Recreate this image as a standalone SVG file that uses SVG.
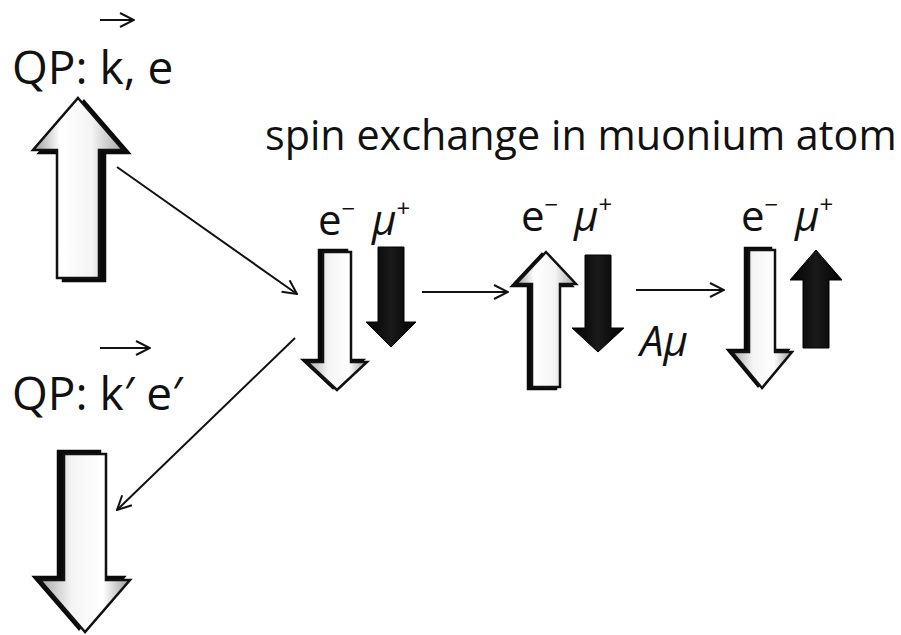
<svg xmlns="http://www.w3.org/2000/svg" width="901" height="635" viewBox="0 0 901 635">
<style>
text{font-family:"Open Sans","Noto Sans",sans-serif;fill:#111}
.big{font-size:46px}
.title{font-size:41.3px}
.lab{font-size:42px}
.sup{font-size:24px;font-style:normal}
.it{font-style:italic}
.conn{stroke:#111;stroke-width:2;fill:none}
.wa{fill:url(#wg);stroke:#111;stroke-width:2.5;stroke-linejoin:miter}
.sh{fill:#0a0a0a;stroke:#0a0a0a;stroke-width:2.5}
.ba{fill:url(#bg);stroke:#000;stroke-width:1}
</style>
<defs>
<linearGradient id="wg" x1="0" y1="0" x2="1" y2="0">
<stop offset="0" stop-color="#9a9a9a"/>
<stop offset="0.3" stop-color="#ffffff"/>
<stop offset="0.65" stop-color="#f4f4f4"/>
<stop offset="1" stop-color="#a8a8a8"/>
</linearGradient>
<linearGradient id="bg" x1="0" y1="0" x2="1" y2="0">
<stop offset="0" stop-color="#000"/>
<stop offset="0.5" stop-color="#1a1a1a"/>
<stop offset="1" stop-color="#000"/>
</linearGradient>
<marker id="ah" viewBox="0 0 16 16" refX="15" refY="8" markerWidth="16" markerHeight="16" markerUnits="userSpaceOnUse" orient="auto">
<path d="M1,1 L15,8 L1,15" fill="none" stroke="#111" stroke-width="2"/>
</marker>
</defs>

<g id="qp-in">
<text class="big" x="12" y="84">QP: k, e</text>
<line class="conn" x1="100" y1="20" x2="134" y2="20" marker-end="url(#ah)"/>
<g transform="translate(78,98)">
<path class="sh" transform="translate(6,3)" d="M0,0 L45,52 L21,52 L21,180 L-21,180 L-21,52 L-45,52 Z"/>
<path class="wa" d="M0,0 L45,52 L21,52 L21,180 L-21,180 L-21,52 L-45,52 Z"/>
</g>
</g>

<g id="qp-out">
<text class="big" x="12" y="410">QP: k′ e′</text>
<line class="conn" x1="100" y1="348" x2="150" y2="348" marker-end="url(#ah)"/>
<g transform="translate(85,632) rotate(180)">
<path class="sh" transform="translate(6,3)" d="M0,0 L45,52 L21,52 L21,178 L-21,178 L-21,52 L-45,52 Z"/>
<path class="wa" d="M0,0 L45,52 L21,52 L21,178 L-21,178 L-21,52 L-45,52 Z"/>
</g>
</g>

<g id="title">
<text class="title" x="265" y="150">spin exchange in muonium atom</text>
</g>

<g id="state1">
<text class="lab" x="318" y="235">e<tspan class="sup" dy="-18">−</tspan></text>
<text class="lab it" x="372" y="235">μ<tspan class="sup" dy="-18">+</tspan></text>
<g transform="translate(337,390) rotate(180)">
<path class="sh" transform="translate(4,2)" d="M0,0 L30,28 L14,28 L14,138 L-14,138 L-14,28 L-30,28 Z"/>
<path class="wa" d="M0,0 L30,28 L14,28 L14,138 L-14,138 L-14,28 L-30,28 Z"/>
</g>
<g transform="translate(391,347) rotate(180)">
<path class="ba" d="M0,0 L25,25 L13,25 L13,100 L-13,100 L-13,25 L-25,25 Z"/>
</g>
</g>

<g id="state2">
<text class="lab" x="521" y="231">e<tspan class="sup" dy="-18">−</tspan></text>
<text class="lab it" x="574" y="231">μ<tspan class="sup" dy="-18">+</tspan></text>
<g transform="translate(546,252)">
<path class="sh" transform="translate(-4,2)" d="M0,0 L30,32 L14,32 L14,135 L-14,135 L-14,32 L-30,32 Z"/>
<path class="wa" d="M0,0 L30,32 L14,32 L14,135 L-14,135 L-14,32 L-30,32 Z"/>
</g>
<g transform="translate(598,352) rotate(180)">
<path class="ba" d="M0,0 L26,24 L13,24 L13,97 L-13,97 L-13,24 L-26,24 Z"/>
</g>
</g>

<g id="state3">
<text class="lab" x="741" y="231">e<tspan class="sup" dy="-18">−</tspan></text>
<text class="lab it" x="795" y="231">μ<tspan class="sup" dy="-18">+</tspan></text>
<g transform="translate(762,388) rotate(180)">
<path class="sh" transform="translate(4,2)" d="M0,0 L30,36 L13,36 L13,138 L-13,138 L-13,36 L-30,36 Z"/>
<path class="wa" d="M0,0 L30,36 L13,36 L13,138 L-13,138 L-13,36 L-30,36 Z"/>
</g>
<g transform="translate(816,250)">
<path class="ba" d="M0,0 L26,30 L13,30 L13,98 L-13,98 L-13,30 L-26,30 Z"/>
</g>
</g>

<g id="connectors">
<line class="conn" x1="117" y1="167" x2="297" y2="294" marker-end="url(#ah)"/>
<line class="conn" x1="295" y1="338" x2="117" y2="510" marker-end="url(#ah)"/>
<line class="conn" x1="422" y1="292" x2="508" y2="292" marker-end="url(#ah)"/>
<line class="conn" x1="636" y1="290" x2="724" y2="290" marker-end="url(#ah)"/>
<text class="lab it" x="640" y="356" font-size="40">Aμ</text>
</g>
</svg>
